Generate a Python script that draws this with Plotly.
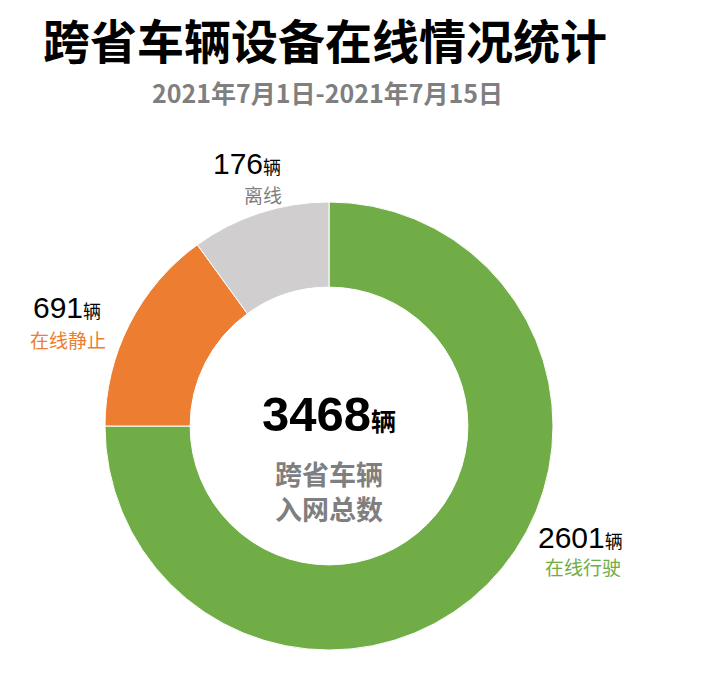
import plotly.graph_objects as go

categories = ["在线行驶", "在线静止", "离线"]
values = [2601, 691, 176]               # vehicle counts shown in labels
slice_shares = [75, 15, 10]             # slice sizes as drawn in the picture (%)
colors = ["#70AD47", "#ED7D31", "#D0CECE"]
unit = "辆"
title = "跨省车辆设备在线情况统计"
subtitle = "2021年7月1日-2021年7月15日"
center_label = ["跨省车辆", "入网总数"]

W, H = 710, 684
CJK = "Noto Sans CJK SC"
NUM = "Liberation Sans"

def px(x, y):
    return x / W, 1 - y / H

x0, y0 = px(105, 650)
x1, y1 = px(553, 202)

fig = go.Figure(go.Pie(
    labels=categories, values=slice_shares, customdata=values,
    sort=False, direction="clockwise",
    rotation=0, hole=0.62, textinfo="none",
    hovertemplate="%{label}: %{customdata}<extra></extra>",
    marker=dict(colors=colors, line=dict(color="white", width=1)),
    domain=dict(x=[x0, x1], y=[y0, y1]),
    showlegend=False,
))

anns = []
def add(text, x, y, size, color, family=CJK, bold=False):
    xx, yy = px(x, y)
    if bold:
        text = f"<b>{text}</b>"
    anns.append(dict(text=text, x=xx, y=yy, xref="paper", yref="paper",
                     showarrow=False, xanchor="center", yanchor="middle",
                     font=dict(size=size, color=color, family=family)))

add(title, 325, 39, 47, "#000000", bold=True)
add(subtitle, 327, 92, 25, "#7F7F7F", bold=True)

label_pos = {
    "在线行驶": ((580, 537), (583, 566)),
    "在线静止": ((67, 308), (68, 340)),
    "离线": ((247, 163), (263, 194)),
}
for cat, val, col in zip(categories, values, colors):
    (nx, ny), (lx, ly) = label_pos[cat]
    add(f"{val}<span style='font-size:18px;font-family:{CJK}'>{unit}</span>",
        nx, ny, 30, "#000000", family=NUM)
    lab_col = "#7F7F7F" if cat == "离线" else col
    add(cat, lx, ly, 19, lab_col)

total = sum(values)
add(f"<b>{total}</b><span style='font-size:25px;font-family:{CJK}'><b>{unit}</b></span>",
    329, 414, 49, "#000000", family=NUM)
add("<br>".join(center_label), 329, 491, 27, "#7F7F7F", bold=True)

fig.update_layout(
    width=W, height=H, margin=dict(l=0, r=0, t=0, b=0),
    paper_bgcolor="white", plot_bgcolor="white",
    annotations=anns,
)
fig.write_html("out.html", config={"displayModeBar": False},
               post_script="document.body.style.margin='0';document.body.style.overflow='hidden';")
